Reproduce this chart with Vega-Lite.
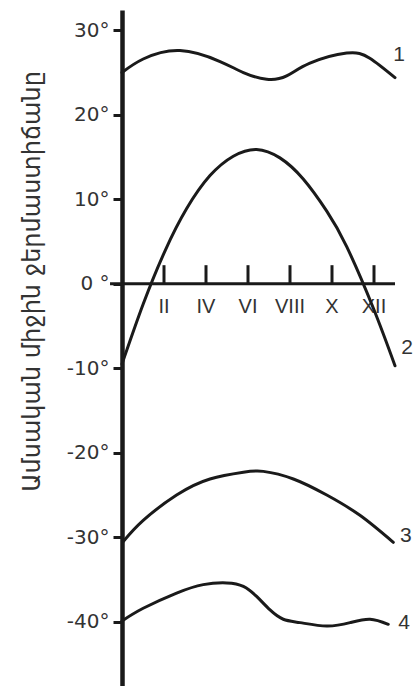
{
  "$schema": "https://vega.github.io/schema/vega-lite/v6.json",
  "width": 273,
  "height": 676,
  "autosize": {"type": "none"},
  "padding": {"left": 122, "top": 10, "right": 19, "bottom": 0},
  "background": "white",
  "config": {"view": {"stroke": null}, "font": "DejaVu Sans"},
  "datasets": {
    "curves": [
      {"s": "1", "m": 0, "t": 25.0}, {"s": "1", "m": 1.01, "t": 26.6}, {"s": "1", "m": 2.76, "t": 27.6}, {"s": "1", "m": 4.67, "t": 26.3}, {"s": "1", "m": 5.78, "t": 25.0}, {"s": "1", "m": 6.89, "t": 24.2}, {"s": "1", "m": 7.84, "t": 24.6}, {"s": "1", "m": 8.95, "t": 26.1}, {"s": "1", "m": 10.7, "t": 27.3}, {"s": "1", "m": 11.8, "t": 26.7}, {"s": "1", "m": 13.0, "t": 24.4},
      {"s": "2", "m": 0, "t": -9.5}, {"s": "2", "m": 1.01, "t": -2.4}, {"s": "2", "m": 2.05, "t": 3.9}, {"s": "2", "m": 3.08, "t": 8.9}, {"s": "2", "m": 4.19, "t": 12.8}, {"s": "2", "m": 5.3, "t": 15.1}, {"s": "2", "m": 6.41, "t": 15.9}, {"s": "2", "m": 7.52, "t": 14.9}, {"s": "2", "m": 8.63, "t": 12.4}, {"s": "2", "m": 9.75, "t": 8.6}, {"s": "2", "m": 10.7, "t": 4.4}, {"s": "2", "m": 11.97, "t": -2.9}, {"s": "2", "m": 13.0, "t": -9.7},
      {"s": "3", "m": 0.06, "t": -30.5}, {"s": "3", "m": 1.01, "t": -28.0}, {"s": "3", "m": 2.6, "t": -25.0}, {"s": "3", "m": 4.19, "t": -23.1}, {"s": "3", "m": 5.78, "t": -22.3}, {"s": "3", "m": 6.73, "t": -22.2}, {"s": "3", "m": 8.16, "t": -23.1}, {"s": "3", "m": 9.75, "t": -25.0}, {"s": "3", "m": 11.33, "t": -27.4}, {"s": "3", "m": 12.92, "t": -30.6},
      {"s": "4", "m": 0, "t": -39.9}, {"s": "4", "m": 1.01, "t": -38.4}, {"s": "4", "m": 2.6, "t": -36.6}, {"s": "4", "m": 3.87, "t": -35.6}, {"s": "4", "m": 4.99, "t": -35.4}, {"s": "4", "m": 5.78, "t": -35.8}, {"s": "4", "m": 6.41, "t": -37.0}, {"s": "4", "m": 7.05, "t": -38.6}, {"s": "4", "m": 7.68, "t": -39.7}, {"s": "4", "m": 8.48, "t": -40.1}, {"s": "4", "m": 9.75, "t": -40.5}, {"s": "4", "m": 10.86, "t": -40.1}, {"s": "4", "m": 11.81, "t": -39.7}, {"s": "4", "m": 12.68, "t": -40.3}
    ],
    "curveLabels": [
      {"label": "1", "m": 13.19, "t": 27.1},
      {"label": "2", "m": 13.57, "t": -7.6},
      {"label": "3", "m": 13.52, "t": -29.8},
      {"label": "4", "m": 13.43, "t": -40.2}
    ],
    "months": [
      {"m": 2, "label": "II"}, {"m": 4, "label": "IV"}, {"m": 6, "label": "VI"}, {"m": 8, "label": "VIII"}, {"m": 10, "label": "X"}, {"m": 12, "label": "XII"}
    ],
    "xaxis": [{"from": -0.57, "to": 13.0}]
  },
  "layer": [
    {
      "data": {"name": "xaxis"},
      "mark": {"type": "rule", "color": "#1a1a1a", "strokeWidth": 3},
      "encoding": {
        "x": {"field": "from", "type": "quantitative", "scale": {"domain": [0, 13], "nice": false, "zero": false}, "axis": null},
        "x2": {"field": "to"},
        "y": {"datum": 0, "type": "quantitative", "scale": {"domain": [-47.6, 32.4], "nice": false, "zero": false},
          "axis": {
            "title": "Ամսական միջին ջերմաստիճանը",
            "titleFont": "DejaVu Sans", "titleFontSize": 24, "titleFontWeight": "normal", "titleColor": "#333",
            "titlePadding": 22, "titleY": 271,
            "values": [-40, -30, -20, -10, 0, 10, 20, 30],
            "labelExpr": "datum.value === 0 ? '0 °' : datum.value + '°'",
            "labelFont": "DejaVu Sans", "labelFontSize": 20, "labelColor": "#333", "labelPadding": 4,
            "domainColor": "#1a1a1a", "domainWidth": 4.5,
            "tickColor": "#1a1a1a", "tickWidth": 3, "tickSize": 9,
            "grid": false
          }
        }
      }
    },
    {
      "data": {"name": "months"},
      "mark": {"type": "rule", "color": "#1a1a1a", "strokeWidth": 3},
      "encoding": {
        "x": {"field": "m", "type": "quantitative"},
        "y": {"datum": 0, "type": "quantitative"},
        "y2": {"datum": 2.2}
      }
    },
    {
      "data": {"name": "months"},
      "mark": {"type": "text", "font": "Liberation Sans", "fontSize": 20, "color": "#333", "baseline": "middle", "align": "center"},
      "encoding": {
        "x": {"field": "m", "type": "quantitative"},
        "y": {"datum": -2.8, "type": "quantitative"},
        "text": {"field": "label"}
      }
    },
    {
      "data": {"name": "curves"},
      "mark": {"type": "line", "color": "#1a1a1a", "strokeWidth": 3, "interpolate": "natural", "strokeCap": "round"},
      "encoding": {
        "x": {"field": "m", "type": "quantitative"},
        "y": {"field": "t", "type": "quantitative"},
        "detail": {"field": "s"}
      }
    },
    {
      "data": {"name": "curveLabels"},
      "mark": {"type": "text", "font": "Liberation Sans", "fontSize": 21, "color": "#333", "baseline": "middle", "align": "center"},
      "encoding": {
        "x": {"field": "m", "type": "quantitative"},
        "y": {"field": "t", "type": "quantitative"},
        "text": {"field": "label"}
      }
    }
  ]
}
